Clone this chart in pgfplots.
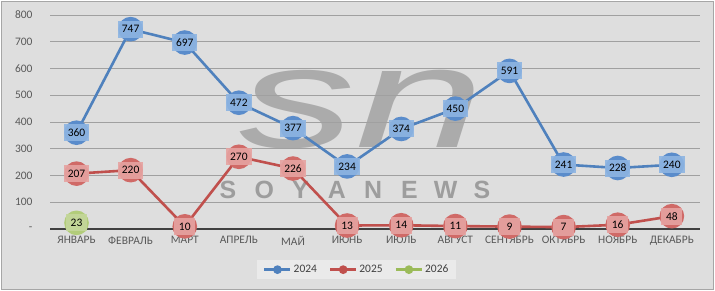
\documentclass[border=0pt]{standalone}
\usepackage{pgfplots}
\pgfplotsset{compat=1.18}
\usepackage{fontspec}
\setmainfont{Carlito}
\newfontfamily\wmfont{Liberation Sans}
\definecolor{bg}{HTML}{DEDEDE}
\definecolor{frame}{HTML}{A6A6A6}
\definecolor{gridc}{HTML}{A0A0A0}
\definecolor{axisc}{HTML}{404040}
\definecolor{labc}{HTML}{595959}
\definecolor{c24}{HTML}{4F81BD}
\definecolor{m24}{HTML}{5A8CCB}
\definecolor{b24}{HTML}{8DB4E2}
\definecolor{c25}{HTML}{C0504D}
\definecolor{m25}{HTML}{D06A67}
\definecolor{b25}{HTML}{E6A3A1}
\definecolor{c26}{HTML}{9BBB59}
\definecolor{m26}{HTML}{B2CC7A}
\definecolor{b26}{HTML}{C4D79B}
\definecolor{wm}{HTML}{ABABAB}
\definecolor{legbg}{HTML}{EAEAEA}
\begin{document}
\begin{tikzpicture}
\useasboundingbox (0,0) rectangle (715bp,291bp);
\fill[white] (0,0) rectangle (715bp,291bp);
\filldraw[fill=bg, draw=frame, line width=1bp] (1.5bp,1.5bp) rectangle (713.5bp,289.5bp);
% watermark
\node[anchor=base, text=wm, font=\wmfont\itshape\fontsize{145}{145}\selectfont, inner sep=0pt] at (362bp,143bp) {\resizebox{245bp}{!}{\scalebox{1}[0.62]{sn}}};
\node[anchor=center, text=wm!92!black, font=\wmfont\bfseries\fontsize{25}{25}\selectfont, inner sep=0pt] at (355bp,101bp)
 {\makebox[36.3bp][c]{S}\makebox[36.3bp][c]{O}\makebox[36.3bp][c]{Y}\makebox[36.3bp][c]{A}\makebox[36.3bp][c]{N}\makebox[36.3bp][c]{E}\makebox[36.3bp][c]{W}\makebox[36.3bp][c]{S}};
\begin{axis}[
  at={(50bp,62bp)}, anchor=south west,
  scale only axis, width=650bp, height=214bp,
  xmin=-0.49, xmax=11.52, ymin=0, ymax=800,
  xtick={0,...,11},
  xticklabels={ЯНВАРЬ,ФЕВРАЛЬ,МАРТ,АПРЕЛЬ,МАЙ,ИЮНЬ,ИЮЛЬ,АВГУСТ,СЕНТЯБРЬ,ОКТЯБРЬ,НОЯБРЬ,ДЕКАБРЬ},
  ytick={0,100,...,800},
  yticklabels={-,100,200,300,400,500,600,700,800},
  major tick length=0pt,
  axis line style={draw=none},
  ymajorgrids, grid style={gridc, line width=0.8bp},
  tick label style={font=\fontsize{11.5}{12}\selectfont, text=labc},
  xticklabel style={yshift=-4bp},
  yticklabel style={xshift=-14bp},
  /pgf/number format/assume math mode=true,
  clip=false,
  legend style={at={(0.472,-0.19)}, anchor=center, legend columns=3, draw=none, fill=legbg,
    font=\fontsize{11.5}{12}\selectfont, text=axisc, inner xsep=6bp, inner ysep=3bp,
    /tikz/every even column/.append style={column sep=10bp}},
  nodes near coords,
  every node near coord/.append style={font=\fontsize{11.5}{12}\selectfont, text=black, anchor=center,
    inner xsep=4bp, inner ysep=0pt, minimum width=21bp, minimum height=17bp, fill opacity=0.9, text opacity=1},
]
\draw[axisc, line width=2bp] (rel axis cs:0,0) -- (rel axis cs:1,0);
\addplot[c24, line width=2.6bp, mark=*, mark size=11bp, mark options={fill=m24, draw=m24},
  every node near coord/.append style={fill=b24},
  legend image code/.code={\draw[c24, line width=2.5bp] (0bp,0bp) -- (26bp,0bp); \fill[c24] (13bp,0bp) circle (3bp);}]
 coordinates {(0,360)(1,747)(2,697)(3,472)(4,377)(5,234)(6,374)(7,450)(8,591)(9,241)(10,228)(11,240)};
\addlegendentry{2024}
\addplot[c25, line width=2.6bp, mark=*, mark size=11bp, mark options={fill=m25, draw=m25},
  every node near coord/.append style={fill=b25},
  legend image code/.code={\draw[c25, line width=2.5bp] (0bp,0bp) -- (26bp,0bp); \fill[c25] (13bp,0bp) circle (3bp);}]
 coordinates {(0,207)(1,220)(2,10)(3,270)(4,226)(5,13)(6,14)(7,11)(8,9)(9,7)(10,16)(11,48)};
\addlegendentry{2025}
\addplot[c26, line width=2.6bp, mark=*, mark size=11bp, mark options={fill=m26, draw=m26},
  every node near coord/.append style={fill=b26},
  legend image code/.code={\draw[c26, line width=2.5bp] (0bp,0bp) -- (26bp,0bp); \fill[c26] (13bp,0bp) circle (3bp);}]
 coordinates {(0,23)};
\addlegendentry{2026}
\end{axis}
\end{tikzpicture}
\end{document}
